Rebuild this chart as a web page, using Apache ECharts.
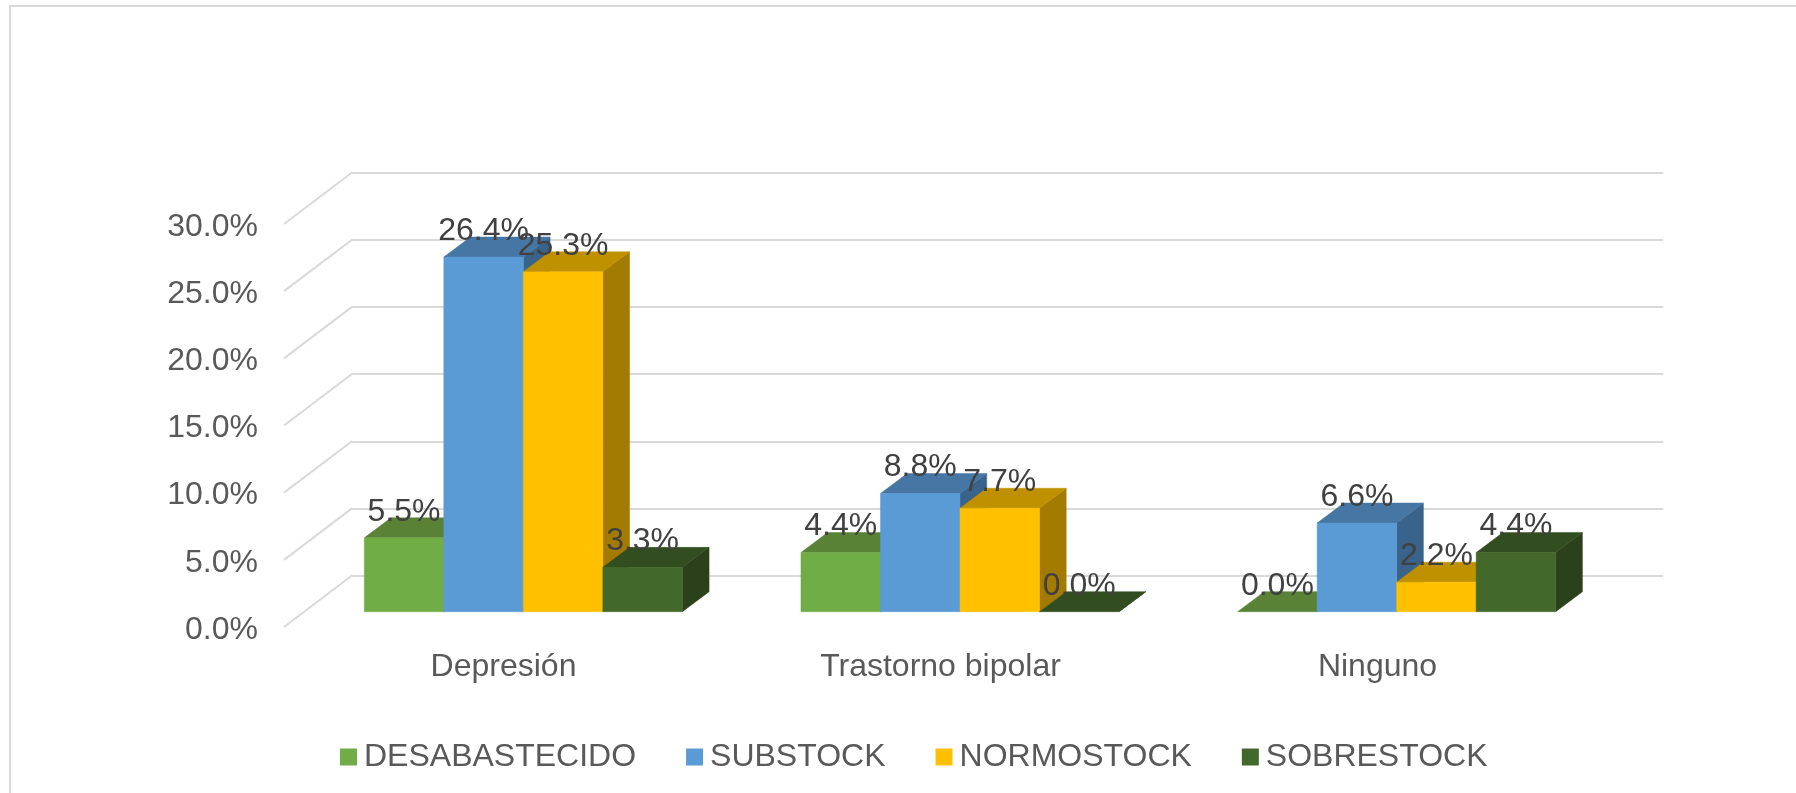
<!DOCTYPE html>
<html>
<head>
<meta charset="utf-8">
<style>html,body{margin:0;padding:0;background:#fff}#c{width:1796px;height:793px}</style>
<script src="https://cdn.jsdelivr.net/npm/echarts@6/dist/echarts.min.js"></script>
</head>
<body>
<div id="c"></div>
<script>
const categories = ['Depresión', 'Trastorno bipolar', 'Ninguno'];
const seriesNames = ['DESABASTECIDO', 'SUBSTOCK', 'NORMOSTOCK', 'SOBRESTOCK'];
const desabastecido = [5.5, 4.4, 0.0];
const substock = [26.4, 8.8, 6.6];
const normostock = [25.3, 7.7, 2.2];
const sobrestock = [3.3, 0.0, 4.4];
const tickValues = [0, 5, 10, 15, 20, 25, 30];
const seriesValues = [desabastecido, substock, normostock, sobrestock];

const frontColors = ['#70AD47', '#5B9BD5', '#FFC000', '#43682B'];
const topColors = ['#598237', '#4676A3', '#BF9000', '#324E20'];
const sideColors = ['#466C2C', '#39638B', '#A37B00', '#2A411B'];

const FONT = '"Liberation Sans", Arial, sans-serif';
const FS = 32;
const BAR_RATIO = 0.1821;
const DEPTH_X = 26.7, DEPTH_Y = 20;
const WALL_X = 68.3, WALL_Y = 51.7;
const LABEL_RISE = 26;
const AXIS_LABEL_DROP = 3;

function face(pts, fill) {
  return { type: 'polygon', shape: { points: pts }, style: { fill: fill, stroke: fill, lineWidth: 0.5 } };
}

function barRenderer(si) {
  return function (params, api) {
    const cat = api.value(0), v = api.value(1);
    const center = api.coord([cat, 0]);
    const bw = api.size([1, 0])[0] * BAR_RATIO;
    const x0 = center[0] + (si - 2) * bw, x1 = x0 + bw;
    const yb = center[1], yt = api.coord([cat, v])[1];
    const dx = DEPTH_X, dy = DEPTH_Y;
    const children = [
      face([[x1, yb], [x1 + dx, yb - dy], [x1 + dx, yt - dy], [x1, yt]], sideColors[si]),
      face([[x0, yt], [x0 + dx, yt - dy], [x1 + dx, yt - dy], [x1, yt]], topColors[si])
    ];
    if (v > 0) children.push(face([[x0, yb], [x1, yb], [x1, yt], [x0, yt]], frontColors[si]));
    return { type: 'group', children: children };
  };
}

function labelRenderer(params, api) {
  const cat = api.value(0), v = api.value(1), si = api.value(2);
  const c = api.coord([cat, v]);
  const bw = api.size([1, 0])[0] * BAR_RATIO;
  return {
    type: 'text',
    style: {
      text: v.toFixed(1) + '%',
      x: c[0] + (si - 1.5) * bw,
      y: c[1] - LABEL_RISE,
      align: 'center',
      verticalAlign: 'middle',
      fill: '#404040',
      fontSize: FS,
      fontFamily: FONT
    }
  };
}

function wallRenderer(params, api) {
  const v = api.value(1);
  const y = api.coord([0, v])[1] - AXIS_LABEL_DROP;
  const x = params.coordSys.x;
  return {
    type: 'line',
    shape: { x1: x, y1: y, x2: x + WALL_X, y2: y - WALL_Y },
    style: { stroke: '#D9D9D9', lineWidth: 2 }
  };
}

const barSeries = seriesNames.map((name, si) => ({
  name: name,
  type: 'custom',
  xAxisIndex: 2,
  yAxisIndex: 2,
  z: 5,
  clip: false,
  itemStyle: { color: frontColors[si] },
  renderItem: barRenderer(si),
  data: seriesValues[si].map((v, c) => [c, v])
}));

const labelData = [];
seriesValues.forEach((vals, si) => vals.forEach((v, c) => labelData.push([c, v, si])));

const hiddenCat = { type: 'category', data: categories, show: false };
const hiddenVal = { type: 'value', min: 0, max: 30, interval: 5, show: false };

const option = {
  animation: false,
  backgroundColor: '#FFFFFF',
  textStyle: { fontFamily: FONT },
  graphic: [{
    type: 'polyline',
    silent: true,
    shape: { points: [[10, 793], [10, 6], [1796, 6]] },
    style: { stroke: '#D9D9D9', lineWidth: 2, fill: null }
  }],
  legend: {
    data: seriesNames,
    left: 335,
    top: 736,
    icon: 'rect',
    itemWidth: 17,
    itemHeight: 17,
    itemGap: 50,
    selectedMode: false,
    textStyle: { color: '#595959', fontSize: FS, fontFamily: FONT, padding: [0, 0, 0, 2] }
  },
  grid: [
    { left: 284, width: 1311, top: 224 + AXIS_LABEL_DROP, height: 403 },
    { left: 352.3, width: 1311, top: 172.7, height: 403 },
    { left: 305, width: 1310, top: 208.7, height: 403 }
  ],
  xAxis: [
    {
      type: 'category', data: categories, gridIndex: 0,
      axisLine: { show: false }, axisTick: { show: false },
      axisLabel: { color: '#595959', fontSize: FS, fontFamily: FONT, margin: 24 - AXIS_LABEL_DROP, padding: [0, 0, 0, 2] }
    },
    Object.assign({ gridIndex: 1 }, hiddenCat),
    Object.assign({ gridIndex: 2 }, hiddenCat)
  ],
  yAxis: [
    {
      type: 'value', min: 0, max: 30, interval: 5, gridIndex: 0,
      axisLine: { show: false }, axisTick: { show: false }, splitLine: { show: false },
      axisLabel: {
        color: '#595959', fontSize: FS, fontFamily: FONT, margin: 26,
        formatter: v => v.toFixed(1) + '%'
      }
    },
    {
      type: 'value', min: 0, max: 30, interval: 5, gridIndex: 1,
      axisLine: { show: false }, axisTick: { show: false }, axisLabel: { show: false },
      splitLine: { show: true, lineStyle: { color: '#D9D9D9', width: 2 } }
    },
    Object.assign({ gridIndex: 2 }, hiddenVal)
  ],
  series: [
    {
      type: 'custom', name: 'walls', xAxisIndex: 0, yAxisIndex: 0, z: 1, clip: false, silent: true,
      renderItem: wallRenderer,
      data: tickValues.map(t => [0, t])
    }
  ].concat(barSeries).concat([
    {
      type: 'custom', name: 'labels', xAxisIndex: 2, yAxisIndex: 2, z: 10, clip: false, silent: true,
      renderItem: labelRenderer,
      data: labelData
    }
  ])
};

echarts.init(document.getElementById('c'), null, { renderer: 'canvas' }).setOption(option);
</script>
</body>
</html>
